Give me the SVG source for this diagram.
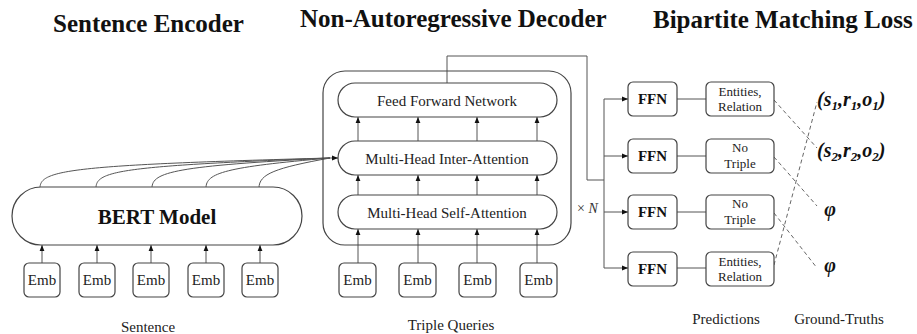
<svg xmlns="http://www.w3.org/2000/svg" width="917" height="334" viewBox="0 0 917 334">
  <defs>
    <marker id="arrow" markerUnits="userSpaceOnUse" markerWidth="6" markerHeight="6" refX="6" refY="3" orient="auto">
      <path d="M0,0.6 L6,3 L0,5.4 z" fill="#111"/>
    </marker>
    <style>
      .box { fill: #fff; stroke: #444; stroke-width: 1.2; }
      .frame { fill: none; stroke: #444; stroke-width: 1.2; }
      .line { fill: none; stroke: #555; stroke-width: 1; }
      .arr { fill: none; stroke: #555; stroke-width: 1; marker-end: url(#arrow); }
      .dash { fill: none; stroke: #666; stroke-width: 1; stroke-dasharray: 4 3; }
      text { font-family: "Liberation Serif", "DejaVu Serif", "Noto Serif", serif; }
      .title { font-weight: bold; font-size: 25px; fill: #111; }
      .txt { font-size: 15px; fill: #222; text-anchor: middle; }
      .small { font-size: 13px; fill: #222; text-anchor: middle; }
      .bold { font-weight: bold; font-size: 15px; fill: #111; text-anchor: middle; }
      .gt { font-weight: bold; font-style: italic; font-size: 20px; fill: #111; }
    </style>
  </defs>
  <rect width="917" height="334" fill="#fff"/>

  <!-- section titles -->
  <text class="title" x="53" y="32">Sentence Encoder</text>
  <text class="title" x="300" y="27">Non-Autoregressive Decoder</text>
  <text class="title" x="653" y="28">Bipartite Matching Loss</text>

  <!-- connectors -->
  <g id="connectors">
    <!-- sentence embeddings into BERT -->
    <path class="arr" d="M42,263 V245"/>
    <path class="arr" d="M97,263 V245"/>
    <path class="arr" d="M151,263 V245"/>
    <path class="arr" d="M206,263 V245"/>
    <path class="arr" d="M260,263 V245"/>
    <!-- BERT outputs into inter-attention -->
    <path class="line" d="M40,188 C40,170 70,165 330,158"/>
    <path class="line" d="M96,188 C96,171 120,166 330,158"/>
    <path class="line" d="M152,188 C152,172 175,166 330,158"/>
    <path class="line" d="M206,188 C206,173 225,167 330,158"/>
    <path class="line" d="M259,188 C259,174 275,168 330,158"/>
    <path class="arr" d="M328,158 H338"/>
    <!-- query embeddings up through the decoder layers -->
    <path class="arr" d="M358,263 V229"/>
    <path class="arr" d="M418,263 V229"/>
    <path class="arr" d="M477,263 V229"/>
    <path class="arr" d="M537,263 V229"/>
    <path class="arr" d="M358,195 V175"/>
    <path class="arr" d="M418,195 V175"/>
    <path class="arr" d="M477,195 V175"/>
    <path class="arr" d="M537,195 V175"/>
    <path class="arr" d="M358,141 V117"/>
    <path class="arr" d="M418,141 V117"/>
    <path class="arr" d="M477,141 V117"/>
    <path class="arr" d="M537,141 V117"/>
    <!-- decoder output to FFN heads -->
    <path class="line" d="M447,83 V56 H587 V180 H604"/>
    <path class="line" d="M604,99 V268"/>
    <path class="arr" d="M604,99 H628"/>
    <path class="arr" d="M604,156 H628"/>
    <path class="arr" d="M604,212 H628"/>
    <path class="arr" d="M604,268 H628"/>
    <!-- FFN to predictions -->
    <path class="line" d="M677,99 H706"/>
    <path class="line" d="M677,156 H706"/>
    <path class="line" d="M677,212 H706"/>
    <path class="line" d="M677,268 H706"/>
    <!-- bipartite assignment -->
    <path class="dash" d="M774,100 L817,148"/>
    <path class="dash" d="M774,157 L817,206"/>
    <path class="dash" d="M774,213 L817,268"/>
    <path class="dash" d="M774,265 L817,102"/>
  </g>

  <!-- sentence encoder -->
  <g id="bert">
    <rect class="box" x="12" y="187" width="290" height="58" rx="29"/>
    <text x="157" y="224" font-weight="bold" font-size="21" text-anchor="middle" fill="#111">BERT Model</text>
  </g>
  <g id="sent-emb-1"><rect class="box" x="24" y="263" width="36" height="34" rx="5"/><text class="txt" x="42" y="285">Emb</text></g>
  <g id="sent-emb-2"><rect class="box" x="79" y="263" width="36" height="34" rx="5"/><text class="txt" x="97" y="285">Emb</text></g>
  <g id="sent-emb-3"><rect class="box" x="133" y="263" width="36" height="34" rx="5"/><text class="txt" x="151" y="285">Emb</text></g>
  <g id="sent-emb-4"><rect class="box" x="188" y="263" width="36" height="34" rx="5"/><text class="txt" x="206" y="285">Emb</text></g>
  <g id="sent-emb-5"><rect class="box" x="242" y="263" width="36" height="34" rx="5"/><text class="txt" x="260" y="285">Emb</text></g>
  <text class="txt" x="148" y="332">Sentence</text>

  <!-- decoder -->
  <g id="decoder">
    <rect class="frame" x="323" y="71" width="248" height="174" rx="22"/>
    <text x="577" y="213" font-size="14" fill="#333">× <tspan font-style="italic">N</tspan></text>
  </g>
  <g id="ffn-layer">
    <rect class="box" x="338" y="83" width="219" height="34" rx="17"/>
    <text class="txt" x="447" y="105.5">Feed Forward Network</text>
  </g>
  <g id="inter-attn">
    <rect class="box" x="338" y="141" width="219" height="34" rx="17"/>
    <text class="txt" x="447" y="163.5">Multi-Head Inter-Attention</text>
  </g>
  <g id="self-attn">
    <rect class="box" x="338" y="195" width="219" height="34" rx="17"/>
    <text class="txt" x="447" y="217.5">Multi-Head Self-Attention</text>
  </g>
  <g id="query-emb-1"><rect class="box" x="339" y="263" width="37" height="34" rx="5"/><text class="txt" x="357.5" y="285">Emb</text></g>
  <g id="query-emb-2"><rect class="box" x="399" y="263" width="37" height="34" rx="5"/><text class="txt" x="417.5" y="285">Emb</text></g>
  <g id="query-emb-3"><rect class="box" x="459" y="263" width="37" height="34" rx="5"/><text class="txt" x="477.5" y="285">Emb</text></g>
  <g id="query-emb-4"><rect class="box" x="520" y="263" width="37" height="34" rx="5"/><text class="txt" x="538.5" y="285">Emb</text></g>
  <text class="txt" x="451" y="330">Triple Queries</text>

  <!-- FFN heads -->
  <g id="ffn-1"><rect class="box" x="628" y="82" width="49" height="34" rx="5"/><text class="bold" x="652.5" y="104">FFN</text></g>
  <g id="ffn-2"><rect class="box" x="628" y="139" width="49" height="34" rx="5"/><text class="bold" x="652.5" y="161">FFN</text></g>
  <g id="ffn-3"><rect class="box" x="628" y="195" width="49" height="34" rx="5"/><text class="bold" x="652.5" y="217">FFN</text></g>
  <g id="ffn-4"><rect class="box" x="628" y="252" width="49" height="34" rx="5"/><text class="bold" x="652.5" y="274">FFN</text></g>

  <!-- predictions -->
  <g id="pred-1"><rect class="box" x="706" y="82" width="68" height="34" rx="5"/><text class="small" x="740" y="96">Entities,</text><text class="small" x="740" y="111">Relation</text></g>
  <g id="pred-2"><rect class="box" x="706" y="139" width="68" height="34" rx="5"/><text class="small" x="740" y="152">No</text><text class="small" x="740" y="168">Triple</text></g>
  <g id="pred-3"><rect class="box" x="706" y="195" width="68" height="34" rx="5"/><text class="small" x="740" y="208">No</text><text class="small" x="740" y="224">Triple</text></g>
  <g id="pred-4"><rect class="box" x="706" y="252" width="68" height="34" rx="5"/><text class="small" x="740" y="266">Entities,</text><text class="small" x="740" y="281">Relation</text></g>
  <text class="txt" x="726" y="324">Predictions</text>

  <!-- ground truths -->
  <g id="gt-1"><text class="gt" x="817" y="106">(s<tspan font-size="13" dy="4">1</tspan><tspan dy="-4">,r</tspan><tspan font-size="13" dy="4">1</tspan><tspan dy="-4">,o</tspan><tspan font-size="13" dy="4">1</tspan><tspan dy="-4">)</tspan></text></g>
  <g id="gt-2"><text class="gt" x="817" y="157">(s<tspan font-size="13" dy="4">2</tspan><tspan dy="-4">,r</tspan><tspan font-size="13" dy="4">2</tspan><tspan dy="-4">,o</tspan><tspan font-size="13" dy="4">2</tspan><tspan dy="-4">)</tspan></text></g>
  <g id="gt-3"><text class="gt" x="830" y="216" text-anchor="middle">φ</text></g>
  <g id="gt-4"><text class="gt" x="830" y="272" text-anchor="middle">φ</text></g>
  <text class="txt" x="839" y="324">Ground-Truths</text>
</svg>
